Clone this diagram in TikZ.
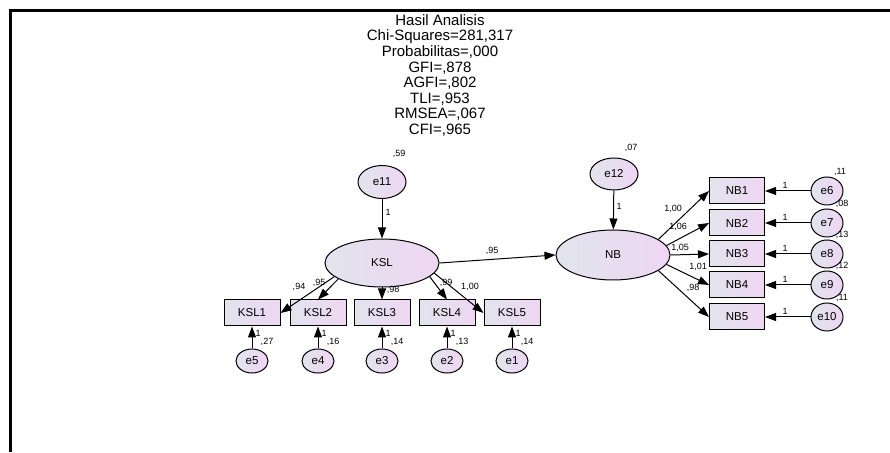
\documentclass[tikz,border=0pt]{standalone}
\usepackage{fontspec}
\setmainfont{Liberation Sans}
\usetikzlibrary{arrows.meta, shapes.geometric}

\definecolor{amosleft}{RGB}{226,228,238}
\definecolor{amosright}{RGB}{238,214,242}

\begin{document}
\begin{tikzpicture}[x=1pt, y=1pt, >={Triangle[length=11pt, width=8pt]},
        latent/.style={draw, ellipse, line width=1pt, inner sep=0pt, minimum width=114pt, minimum height=48pt,
            left color=amosleft, right color=amosright, font=\fontsize{11.5}{13}\selectfont},
        err/.style={draw, ellipse, line width=1pt, inner sep=0pt, minimum width=32pt, minimum height=24pt,
            left color=amosleft, right color=amosright, font=\fontsize{11.5}{13}\selectfont},
        obs/.style={draw, rectangle, line width=1pt, inner sep=0pt, minimum width=56pt, minimum height=26pt,
            left color=amosleft, right color=amosright, font=\fontsize{11.5}{13}\selectfont},
        lbl/.style={inner sep=0pt, font=\fontsize{9}{10}\selectfont},
        path/.style={->, line width=1pt}]
        \useasboundingbox (0, 0) rectangle (890, 452);
        \draw[line width=3pt] (10, 0) -- (10, 441) -- (890, 441);

        \node[align=center, font=\fontsize{15}{15.6}\selectfont] (hasil) at (440, 376.5)
            {Hasil Analisis\\Chi-Squares=281,317\\Probabilitas=,000\\GFI=,878\\AGFI=,802\\TLI=,953\\RMSEA=,067\\CFI=,965};

        \node[latent] (KSL) at (382, 189) {KSL};
        \node[latent, minimum height=50pt] (NB) at (613, 197) {NB};

        \node[err, minimum width=48pt, minimum height=33pt] (e11) at (382, 270) {e11};
        \node[err, minimum width=48pt, minimum height=32pt] (e12) at (614, 278) {e12};

        \node[obs] (KSL1) at (252, 139) {KSL1};
        \node[obs] (KSL2) at (318, 139) {KSL2};
        \node[obs] (KSL3) at (382, 139) {KSL3};
        \node[obs] (KSL4) at (447, 139) {KSL4};
        \node[obs] (KSL5) at (512, 139) {KSL5};

        \node[err] (e5) at (252, 91) {e5};
        \node[err] (e4) at (318, 91) {e4};
        \node[err] (e3) at (382, 91) {e3};
        \node[err] (e2) at (447, 91) {e2};
        \node[err] (e1) at (512, 91) {e1};

        \node[obs, minimum width=55pt] (NB1) at (737, 261) {NB1};
        \node[obs, minimum width=55pt] (NB2) at (737, 229) {NB2};
        \node[obs, minimum width=55pt] (NB3) at (737, 198) {NB3};
        \node[obs, minimum width=55pt] (NB4) at (737, 167) {NB4};
        \node[obs, minimum width=55pt] (NB5) at (737, 135) {NB5};

        \node[err, minimum height=28pt] (e6) at (827, 261) {e6};
        \node[err, minimum height=28pt] (e7) at (827, 229) {e7};
        \node[err, minimum height=28pt] (e8) at (827, 198) {e8};
        \node[err, minimum height=28pt] (e9) at (827, 167) {e9};
        \node[err, minimum height=28pt] (e10) at (827, 135) {e10};

        % variances
        \node[lbl] (r11) at (399, 298) {,59};
        \node[lbl] (r12) at (631, 304) {,07};
        \node[lbl] (r5) at (267, 110) {,27};
        \node[lbl] (r4) at (333, 110) {,16};
        \node[lbl] (r3) at (397, 110) {,14};
        \node[lbl] (r2) at (462, 110) {,13};
        \node[lbl] (r1) at (527, 110) {,14};
        \node[lbl] (r6) at (840, 280) {,11};
        \node[lbl] (r7) at (842, 248) {,08};
        \node[lbl] (r8) at (842, 217) {,13};
        \node[lbl] (r9) at (842, 186) {,12};
        \node[lbl] (r10) at (842, 154) {,11};

        % fixed weights
        \node[lbl] (w11) at (388, 240) {1};
        \node[lbl] (w12) at (619, 246) {1};
        \node[lbl] (w5) at (258, 119) {1};
        \node[lbl] (w4) at (324, 119) {1};
        \node[lbl] (w3) at (388, 119) {1};
        \node[lbl] (w2) at (453, 119) {1};
        \node[lbl] (w1) at (518, 119) {1};
        \node[lbl] (w6) at (785, 267) {1};
        \node[lbl] (w7) at (785, 235) {1};
        \node[lbl] (w8) at (785, 204) {1};
        \node[lbl] (w9) at (785, 173) {1};
        \node[lbl] (w10) at (785, 141) {1};

        % loadings
        \node[lbl] (kn) at (492, 201) {,95};
        \node[lbl] (l1) at (299, 165) {,94};
        \node[lbl] (l2) at (319, 169) {,95};
        \node[lbl] (l3) at (393, 162) {,98};
        \node[lbl] (l4) at (446, 169) {,99};
        \node[lbl] (l5) at (470, 165) {1,00};
        \node[lbl] (m1) at (673, 243) {1,00};
        \node[lbl] (m2) at (678, 225) {1,06};
        \node[lbl] (m3) at (680, 204) {1,05};
        \node[lbl] (m4) at (698, 185) {1,01};
        \node[lbl] (m5) at (693, 164) {,98};


        \draw[path] (e11) -- (KSL);
        \draw[path] (e12) -- (NB);
        \draw[path] (KSL.east) -- (NB.west);

        \draw[path] (KSL.196) -- (KSL1.east);
        \draw[path] (KSL.200) -- (KSL2.north);
        \draw[path] (KSL) -- (KSL3);
        \draw[path] (KSL.344) -- (KSL4.north);
        \draw[path] (KSL.349) -- (KSL5.west);

        \draw[path] (e5) -- (KSL1);
        \draw[path] (e4) -- (KSL2);
        \draw[path] (e3) -- (KSL3);
        \draw[path] (e2) -- (KSL4);
        \draw[path] (e1) -- (KSL5);

        \draw[path] (NB.19) -- (NB1.west);
        \draw[path] (NB.10) -- (NB2.west);
        \draw[path] (NB.east) -- (NB3.west);
        \draw[path] (NB.-10) -- (NB4.west);
        \draw[path] (NB.-19) -- (NB5.west);

        \draw[path] (e6) -- (NB1);
        \draw[path] (e7) -- (NB2);
        \draw[path] (e8) -- (NB3);
        \draw[path] (e9) -- (NB4);
        \draw[path] (e10) -- (NB5);
    \end{tikzpicture}
\end{document}
